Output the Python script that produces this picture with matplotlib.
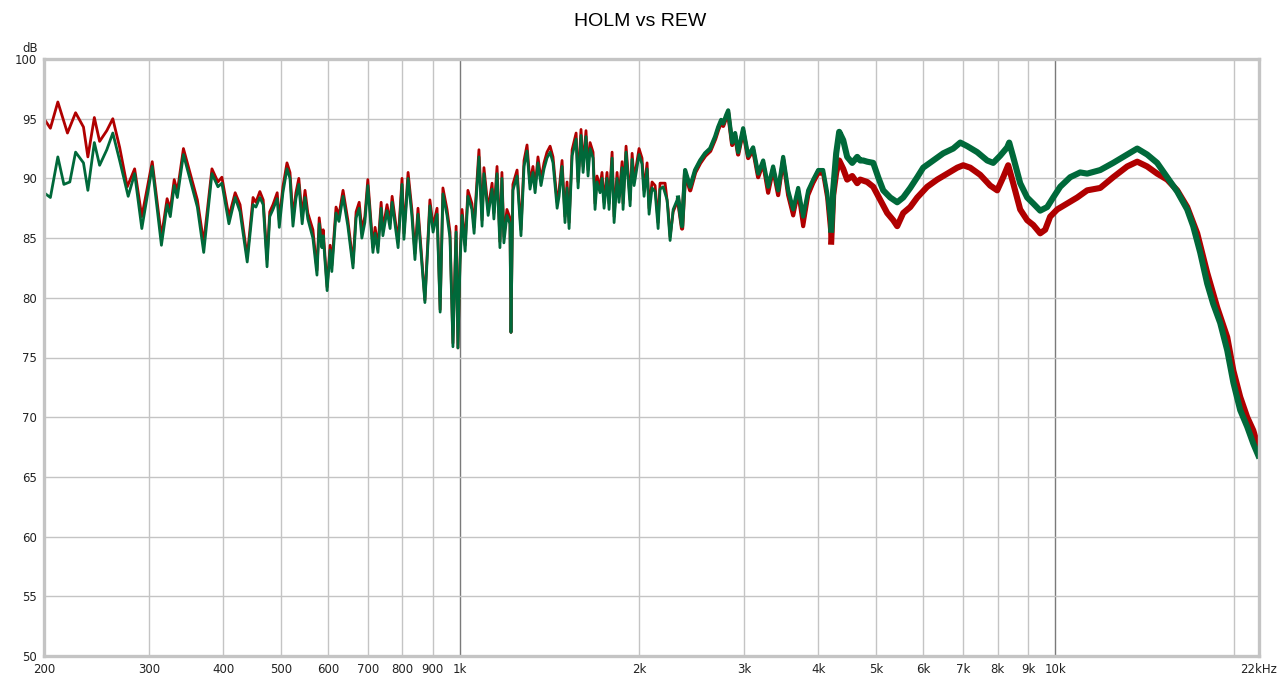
import matplotlib
matplotlib.use("Agg")
from matplotlib import pyplot as plt
from matplotlib.ticker import NullFormatter

# HOLM measurement (red)
red_hz = [200, 205, 211, 219, 226, 233, 237, 243, 248, 255, 261, 268, 276, 284, 292, 304, 315, 322, 326, 331,
          335, 343, 362, 371, 383, 392, 398, 409, 419, 427, 439, 449, 454, 461, 467, 474, 479, 485, 493, 497,
          504, 512, 518, 524, 530, 536, 543, 549, 555, 566, 575, 580, 586, 589, 598, 605, 609, 619, 626, 636,
          648, 661, 669, 677, 684, 692, 700, 714, 720, 728, 737, 742, 754, 763, 769, 787, 799, 805, 818, 830,
          840, 850, 873, 890, 901, 915, 926, 936, 951, 962, 973, 985, 992, 1000, 1008, 1020, 1031, 1047, 1056, 1064,
          1076, 1089, 1097, 1115, 1132, 1140, 1154, 1167, 1176, 1185, 1199, 1213, 1218, 1227, 1247, 1266, 1281, 1296, 1311, 1326,
          1337, 1352, 1368, 1384, 1400, 1417, 1433, 1456, 1467, 1484, 1501, 1513, 1525, 1543, 1567, 1579, 1597, 1610, 1628, 1641,
          1654, 1673, 1686, 1699, 1719, 1732, 1746, 1766, 1780, 1801, 1815, 1836, 1850, 1872, 1879, 1901, 1931, 1946, 1961, 1984,
          1999, 2022, 2038, 2062, 2078, 2102, 2127, 2152, 2168, 2211, 2237, 2254, 2281, 2325, 2361, 2389, 2436, 2483, 2532, 2581,
          2632, 2683, 2715, 2746, 2768, 2800, 2822, 2866, 2899, 2933, 2990, 3049, 3108, 3169, 3231, 3294, 3358, 3424, 3491, 3559,
          3629, 3700, 3772, 3846, 3921, 3997, 4075, 4139, 4204, 4236, 4286, 4336, 4404, 4472, 4560, 4649, 4703, 4832, 4946, 5082,
          5221, 5344, 5427, 5554, 5707, 5864, 6095, 6335, 6586, 6846, 7006, 7197, 7481, 7776, 7990, 8178, 8337, 8500, 8733, 8973,
          9185, 9436, 9620, 9808, 10078, 10475, 10888, 11317, 11903, 12516, 13212, 13735, 14272, 14836, 15422, 16031, 16664, 17322, 18003, 18713,
          19456, 19923, 20456, 21019, 21515, 21937]
red_db = [95.0, 94.2, 96.4, 93.8, 95.5, 94.3, 91.8, 95.1, 93.1, 94.0, 95.0, 92.6, 89.3, 90.8, 86.8, 91.4, 85.1, 88.3, 87.4, 89.9,
          88.9, 92.5, 88.2, 84.6, 90.8, 89.7, 90.1, 86.8, 88.8, 87.8, 83.4, 88.4, 88.0, 88.9, 88.2, 83.2, 87.2, 87.8, 88.8, 86.5,
          89.3, 91.3, 90.5, 86.7, 88.8, 90.0, 86.8, 89.0, 87.1, 85.7, 82.3, 86.7, 84.7, 85.7, 80.9, 84.4, 82.7, 87.6, 86.9, 89.0,
          86.5, 82.9, 87.2, 88.0, 85.7, 86.8, 89.9, 84.2, 85.9, 84.3, 88.0, 85.7, 87.8, 86.3, 88.5, 84.7, 90.0, 85.4, 90.5, 87.4,
          83.7, 87.5, 79.8, 88.2, 86.0, 87.5, 79.0, 89.2, 87.4, 85.5, 76.2, 86.0, 75.8, 83.2, 87.4, 84.4, 89.0, 87.9, 85.9, 88.6,
          92.4, 86.5, 90.9, 87.4, 89.6, 87.1, 91.0, 84.7, 90.5, 85.1, 87.4, 86.7, 77.1, 89.5, 90.7, 85.7, 91.5, 92.8, 89.6, 91.0,
          89.3, 91.8, 89.9, 91.3, 92.2, 92.7, 91.8, 88.0, 89.0, 91.5, 86.8, 89.7, 86.3, 92.4, 93.8, 89.7, 94.1, 91.0, 94.0, 90.7,
          93.0, 92.2, 87.9, 90.2, 89.3, 90.5, 88.0, 90.5, 87.9, 92.2, 86.8, 90.5, 88.5, 91.4, 87.9, 92.7, 88.2, 92.1, 89.9, 91.5,
          92.5, 91.7, 89.0, 91.3, 87.5, 89.7, 89.4, 86.3, 89.6, 89.6, 87.4, 85.1, 87.2, 88.2, 85.8, 90.5, 89.0, 90.5, 91.3, 91.9,
          92.3, 93.3, 94.1, 94.7, 94.4, 95.1, 95.5, 92.8, 93.6, 92.0, 94.0, 91.7, 92.4, 90.1, 91.3, 88.8, 90.8, 88.6, 91.6, 88.6,
          86.9, 88.9, 86.0, 88.6, 89.6, 90.4, 90.4, 88.4, 84.7, 88.6, 90.5, 91.5, 90.8, 89.9, 90.2, 89.6, 89.9, 89.7, 89.3, 88.2,
          87.1, 86.5, 86.0, 87.1, 87.6, 88.4, 89.3, 89.9, 90.4, 90.9, 91.1, 90.9, 90.3, 89.4, 89.0, 90.1, 91.1, 89.6, 87.4, 86.5,
          86.1, 85.4, 85.7, 86.8, 87.4, 87.9, 88.4, 89.0, 89.2, 90.1, 91.0, 91.4, 91.0, 90.4, 89.9, 89.0, 87.6, 85.4, 82.1, 79.2,
          76.7, 73.9, 71.7, 70.0, 68.9, 67.5]

# REW measurement (green)
green_hz = [200, 205, 211, 216, 221, 226, 233, 237, 243, 248, 255, 261, 268, 277, 284, 292, 304, 315, 322, 326,
            331, 335, 343, 362, 371, 383, 392, 398, 409, 419, 427, 439, 449, 454, 461, 467, 474, 479, 485, 493,
            497, 504, 512, 518, 524, 530, 536, 543, 549, 555, 566, 575, 580, 586, 589, 598, 605, 609, 619, 626,
            636, 648, 661, 669, 677, 684, 692, 700, 714, 720, 728, 737, 742, 754, 763, 769, 787, 799, 805, 818,
            830, 840, 850, 873, 890, 901, 915, 926, 936, 951, 962, 973, 985, 992, 1000, 1008, 1020, 1031, 1047, 1056,
            1064, 1076, 1089, 1097, 1115, 1132, 1140, 1154, 1167, 1176, 1185, 1199, 1213, 1218, 1227, 1247, 1266, 1281, 1296, 1311,
            1326, 1337, 1352, 1368, 1384, 1400, 1417, 1433, 1456, 1467, 1484, 1501, 1513, 1525, 1543, 1567, 1579, 1597, 1610, 1628,
            1641, 1654, 1673, 1686, 1699, 1719, 1732, 1746, 1766, 1780, 1801, 1815, 1836, 1850, 1872, 1879, 1901, 1931, 1946, 1961,
            1984, 1999, 2022, 2038, 2062, 2078, 2102, 2127, 2152, 2168, 2194, 2228, 2254, 2281, 2325, 2361, 2389, 2436, 2483, 2532,
            2581, 2632, 2683, 2715, 2746, 2768, 2800, 2822, 2866, 2899, 2933, 2990, 3049, 3108, 3169, 3231, 3294, 3358, 3424, 3491,
            3559, 3629, 3700, 3772, 3846, 3921, 3997, 4075, 4139, 4204, 4236, 4286, 4336, 4404, 4472, 4560, 4649, 4703, 4758, 4832,
            4946, 5042, 5141, 5282, 5427, 5554, 5707, 5864, 6001, 6238, 6484, 6740, 6926, 7116, 7395, 7687, 7867, 8083, 8305, 8370,
            8500, 8733, 8973, 9185, 9436, 9695, 9923, 10195, 10598, 11016, 11317, 11903, 12516, 13212, 13735, 14272, 14836, 15422, 16031, 16664,
            17055, 17522, 18003, 18426, 18932, 19456, 19923, 20456, 21019, 21515, 21937]
green_db = [88.8, 88.4, 91.8, 89.5, 89.7, 92.2, 91.3, 89.0, 93.0, 91.1, 92.4, 93.8, 91.5, 88.5, 90.4, 85.8, 91.0, 84.4, 87.8, 86.8,
            89.4, 88.4, 92.0, 87.6, 83.8, 90.4, 89.3, 89.6, 86.2, 88.4, 87.2, 83.0, 87.8, 87.6, 88.4, 87.8, 82.6, 86.8, 87.4, 88.3,
            85.9, 88.8, 90.8, 90.0, 86.0, 88.3, 89.5, 86.2, 88.4, 86.6, 85.0, 81.9, 86.2, 84.2, 85.2, 80.6, 84.0, 82.2, 87.1, 86.4,
            88.5, 86.0, 82.5, 86.7, 87.5, 85.0, 86.3, 89.4, 83.8, 85.4, 83.8, 87.5, 85.2, 87.3, 85.8, 88.0, 84.2, 89.5, 84.9, 90.0,
            86.9, 83.2, 87.0, 79.6, 87.7, 85.5, 87.0, 78.8, 88.7, 86.9, 85.0, 75.9, 85.5, 75.8, 82.8, 86.9, 83.9, 88.5, 87.4, 85.4,
            88.1, 91.8, 86.0, 90.4, 86.9, 89.1, 86.6, 90.4, 84.2, 90.0, 84.6, 86.9, 86.2, 77.1, 89.0, 90.2, 85.2, 91.0, 92.3, 89.1,
            90.5, 88.8, 91.3, 89.4, 90.8, 91.7, 92.2, 91.3, 87.5, 88.5, 91.0, 86.3, 89.2, 85.8, 91.9, 93.3, 89.2, 93.6, 90.5, 93.5,
            90.2, 92.5, 91.7, 87.4, 89.7, 88.8, 90.0, 87.5, 90.0, 87.4, 91.7, 86.3, 90.0, 88.0, 90.9, 87.4, 92.2, 87.7, 91.6, 89.4,
            91.0, 92.0, 91.2, 88.5, 90.8, 87.0, 89.2, 88.9, 85.8, 89.1, 89.3, 88.2, 84.8, 87.4, 88.4, 86.0, 90.7, 89.3, 90.7, 91.5,
            92.1, 92.5, 93.5, 94.3, 94.9, 94.6, 95.3, 95.7, 93.0, 93.8, 92.2, 94.2, 91.9, 92.6, 90.4, 91.5, 89.3, 91.0, 89.0, 91.8,
            89.0, 87.4, 89.2, 86.8, 89.0, 89.9, 90.7, 90.7, 88.8, 85.7, 89.0, 92.1, 93.9, 93.2, 91.8, 91.3, 91.8, 91.5, 91.5, 91.4,
            91.3, 90.1, 89.0, 88.4, 88.0, 88.4, 89.2, 90.1, 90.9, 91.5, 92.1, 92.5, 93.0, 92.7, 92.2, 91.5, 91.3, 91.9, 92.6, 93.0,
            91.8, 89.6, 88.4, 87.9, 87.3, 87.6, 88.4, 89.3, 90.1, 90.5, 90.4, 90.7, 91.3, 92.0, 92.5, 92.0, 91.3, 90.1, 88.9, 87.4,
            86.0, 83.8, 81.2, 79.5, 77.9, 75.6, 72.9, 70.6, 69.2, 67.8, 66.8]

x_ticks = [200, 300, 400, 500, 600, 700, 800, 900, 1000, 2000, 3000, 4000, 5000, 6000, 7000, 8000, 9000, 10000, 22000]
x_labels = ['200', '300', '400', '500', '600', '700', '800', '900', '1k', '2k', '3k', '4k', '5k', '6k', '7k', '8k', '9k', '10k', '22kHz']
y_ticks = list(range(50, 101, 5))

RED = '#b00000'
GREEN = '#00693a'
# above these frequencies the traces are a noisy band, drawn thicker
BANDS = [(2300, 3.0), (4200, 4.4)]


def draw(ax, hz, db, color, z):
    ax.plot(hz, db, color=color, lw=2.0, zorder=z, solid_joinstyle='round', solid_capstyle='round')
    for start, width in BANDS:
        idx = [i for i, f in enumerate(hz) if f >= start]
        ax.plot([hz[i] for i in idx], [db[i] for i in idx], color=color, lw=width, zorder=z,
                solid_joinstyle='round')


fig = plt.figure(figsize=(12.8, 6.78), dpi=100)
ax = fig.add_axes([44 / 1280, 1 - 656 / 678, 1215 / 1280, 597 / 678])

# grid
for f in [300, 400, 500, 600, 700, 800, 900, 2000, 3000, 4000, 5000, 6000, 7000, 8000, 9000, 20000]:
    ax.axvline(f, color='#c4c4c4', lw=1.0, zorder=1)
for f in [1000, 10000]:
    ax.axvline(f, color='#7a7a7a', lw=1.0, zorder=1)
for v in y_ticks:
    ax.axhline(v, color='#c4c4c4', lw=1.0, zorder=1)

draw(ax, red_hz, red_db, RED, 3)
draw(ax, green_hz, green_db, GREEN, 4)

ax.set_xscale('log')
ax.set_xlim(200, 22000)
ax.set_ylim(50, 100)
ax.set_xticks(x_ticks)
ax.set_xticklabels(x_labels)
ax.xaxis.set_minor_formatter(NullFormatter())
ax.tick_params(axis='x', which='both', length=0, pad=5, labelsize=8.5, colors='#222222')
ax.set_yticks(y_ticks)
ax.tick_params(axis='y', length=0, pad=5, labelsize=8.5, colors='#222222')

for side in ['left', 'bottom', 'right', 'top']:
    ax.spines[side].set_color('#c4c4c4')
    ax.spines[side].set_linewidth(2.4)
    ax.spines[side].set_zorder(5)

fig.text(30 / 1280, 1 - 48 / 678, 'dB', ha='center', va='center', fontsize=8.5, color='#222222')
fig.suptitle('HOLM vs REW', y=1 - 22 / 678, va='center', fontsize=14, family='Liberation Sans')

fig.savefig('out.png', dpi=100)
